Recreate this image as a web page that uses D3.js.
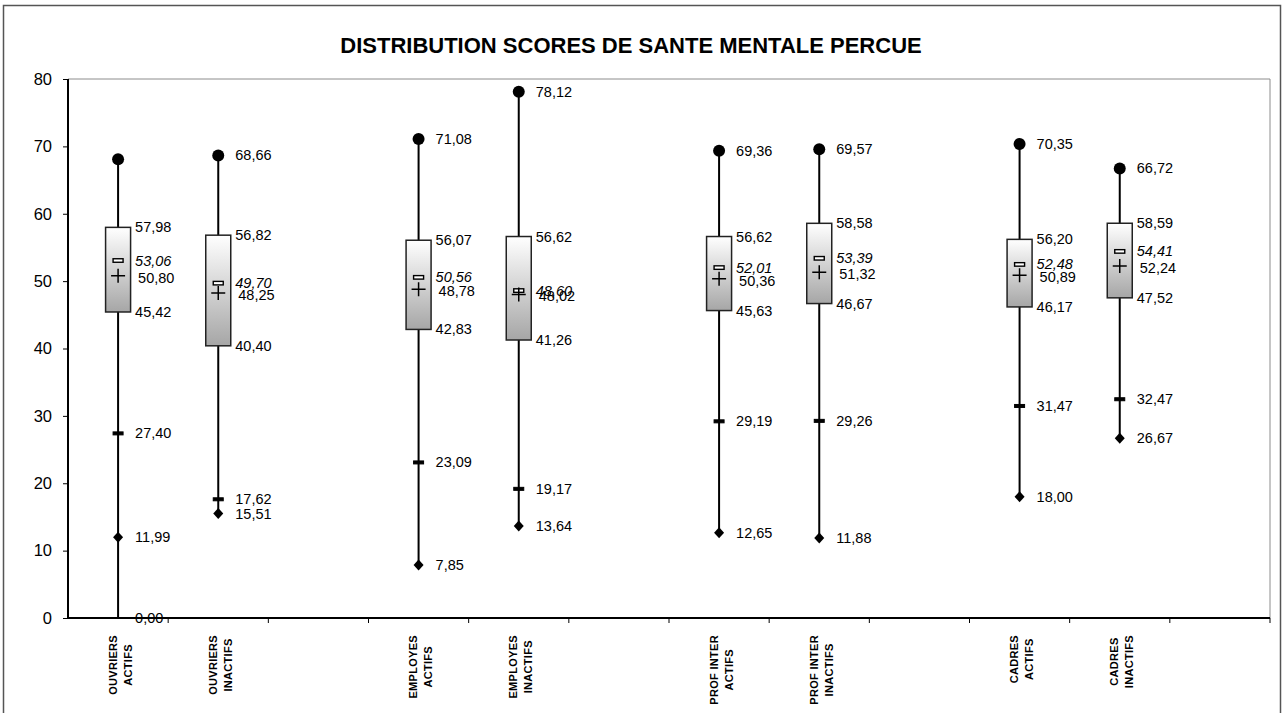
<!DOCTYPE html>
<html>
<head>
<meta charset="utf-8">
<title>Distribution scores de sante mentale percue</title>
<style>
	body { margin: 0; background: #fff; }
	svg { display: block; font-family: "Liberation Sans", Arial, sans-serif; }
</style>
</head>
<body>
	<svg id="chart" width="1287" height="713"></svg>
</body>
<script src="https://cdn.jsdelivr.net/npm/d3@7/dist/d3.min.js"></script>
<script>
	// 12 slots on the x axis, empty ones are the gaps between groups
	const slots = ["OUVRIERS|ACTIFS", "OUVRIERS|INACTIFS", "",
		"EMPLOYES|ACTIFS", "EMPLOYES|INACTIFS", "",
		"PROF INTER|ACTIFS", "PROF INTER|INACTIFS", "",
		"CADRES|ACTIFS", "CADRES|INACTIFS", ""]

	const maxVal    = [68.10, 68.66, 71.08, 78.12, 69.36, 69.57, 70.35, 66.72]
	const q3Val     = [57.98, 56.82, 56.07, 56.62, 56.62, 58.58, 56.20, 58.59]
	const medianVal = [53.06, 49.70, 50.56, 48.60, 52.01, 53.39, 52.48, 54.41]
	const meanVal   = [50.80, 48.25, 48.78, 48.02, 50.36, 51.32, 50.89, 52.24]
	const q1Val     = [45.42, 40.40, 42.83, 41.26, 45.63, 46.67, 46.17, 47.52]
	const lowVal    = [27.40, 17.62, 23.09, 19.17, 29.19, 29.26, 31.47, 32.47]
	const minVal    = [11.99, 15.51, 7.85, 13.64, 12.65, 11.88, 18.00, 26.67]
	const whiskerEnd = [0.00, 15.51, 7.85, 13.64, 12.65, 11.88, 18.00, 26.67]
	const maxLabelled = [false, true, true, true, true, true, true, true]

	const yTicks = [0, 10, 20, 30, 40, 50, 60, 70, 80]
	const title = "DISTRIBUTION SCORES DE SANTE MENTALE PERCUE"

	let svg = d3.select("#chart")
	let fmt = v => d3.format(".2f")(v).replace(".", ",")

	let x = d3.scaleBand()
		.domain(d3.range(slots.length))
		.range([68, 1270])
		.padding(0)

	let y = d3.scaleLinear()
		.domain([0, 80])
		.range([618, 79])

	// boxes are placed on the non-empty slots
	let slotIdx = slots.map((s, i) => s ? i : -1).filter(i => i >= 0)
	let boxes = slotIdx.map((s, i) => ({
		slot: s, max: maxVal[i], q3: q3Val[i], med: medianVal[i], mean: meanVal[i],
		q1: q1Val[i], low: lowVal[i], min: minVal[i], end: whiskerEnd[i], maxLab: maxLabelled[i]
	}))
	let cx = d => x(d.slot) + x.bandwidth() / 2

	// gradient for the boxes
	let grad = svg.append("defs").append("linearGradient")
		.attr("id", "boxFill")
		.attr("x1", 0).attr("y1", 0).attr("x2", 0).attr("y2", 1)
	grad.append("stop").attr("offset", "0%").attr("stop-color", "#ffffff")
	grad.append("stop").attr("offset", "100%").attr("stop-color", "#a6a6a6")

	// outer frame
	svg.append("rect")
		.attr("x", 3.5).attr("y", 5.5)
		.attr("width", 1277).attr("height", 730)
		.attr("fill", "none").attr("stroke", "#555").attr("stroke-width", 1.5)

	svg.append("text")
		.attr("x", 631).attr("y", 53)
		.attr("text-anchor", "middle")
		.attr("font-size", 22).attr("font-weight", "bold")
		.text(title)

	// plot area top & right border
	svg.append("path")
		.attr("d", `M${x.range()[0]},${y(80)}H${x.range()[1]}V${y(0)}`)
		.attr("fill", "none").attr("stroke", "#8c8c8c").attr("stroke-width", 1)

	// y axis
	let yAxis = svg.append("g")
		.attr("transform", `translate(${x.range()[0]},0)`)
		.call(d3.axisLeft(y).tickValues(yTicks).tickSize(5).tickPadding(11))
	yAxis.select(".domain").remove()
	yAxis.selectAll("text").attr("font-size", 16.5).attr("fill", "#000")
		.attr("font-family", "Liberation Sans, Arial, sans-serif")
	yAxis.selectAll("line").attr("stroke", "#000")

	// x axis ticks at slot boundaries
	let bounds = d3.range(slots.length + 1).map(i => x.range()[0] + i * x.bandwidth())
	svg.selectAll(".xtick").data(bounds.slice(1)).enter().append("line")
		.attr("x1", d => d).attr("x2", d => d)
		.attr("y1", y(0)).attr("y2", y(0) + 5)
		.attr("stroke", "#000").attr("stroke-width", 1)

	svg.append("line")
		.attr("x1", x.range()[0]).attr("x2", x.range()[0])
		.attr("y1", y(80)).attr("y2", y(0) + 1)
		.attr("stroke", "#000").attr("stroke-width", 2)
	svg.append("line")
		.attr("x1", x.range()[0] - 1).attr("x2", x.range()[1])
		.attr("y1", y(0)).attr("y2", y(0))
		.attr("stroke", "#000").attr("stroke-width", 2)

	// category labels (rotated, two lines)
	let catG = svg.selectAll(".cat").data(slots.map((s, i) => ({ s, i })).filter(d => d.s))
		.enter().append("g")
	catG.each(function (d) {
		let g = d3.select(this)
		let lines = d.s.split("|")
		let t = g.selectAll("text").data(lines).enter().append("text")
			.attr("font-size", 11).attr("font-weight", "bold")
			.attr("letter-spacing", 0.3)
			.attr("text-anchor", "middle")
			.attr("dominant-baseline", "central")
			.attr("y", (l, j) => (j - (lines.length - 1) / 2) * 15)
			.text(l => l)
		let maxLen = d3.max(t.nodes(), n => n.getComputedTextLength())
		g.attr("transform", `translate(${x(d.i) + x.bandwidth() / 2 + 2},${635 + maxLen / 2}) rotate(-90)`)
	})

	let bx = svg.selectAll(".box").data(boxes).enter().append("g")

	// whisker
	bx.append("line")
		.attr("x1", cx).attr("x2", cx)
		.attr("y1", d => y(d.end)).attr("y2", d => y(d.max))
		.attr("stroke", "#000").attr("stroke-width", 2)

	// box
	bx.append("rect")
		.attr("x", d => cx(d) - 12.5)
		.attr("width", 25)
		.attr("y", d => y(d.q3))
		.attr("height", d => y(d.q1) - y(d.q3))
		.attr("fill", "url(#boxFill)")
		.attr("stroke", "#222").attr("stroke-width", 1.5)

	// max dot
	bx.append("circle")
		.attr("cx", cx).attr("cy", d => y(d.max))
		.attr("r", 6).attr("fill", "#000")

	// min diamond
	bx.append("path")
		.attr("d", d => `M${cx(d)},${y(d.min) - 5.5}l5,5.5l-5,5.5l-5,-5.5z`)
		.attr("fill", "#000")

	// median and low percentile small bars
	bx.append("rect")
		.attr("x", d => cx(d) - 5).attr("width", 10)
		.attr("y", d => y(d.med) - 1.75).attr("height", 3.5)
		.attr("fill", "#fff").attr("stroke", "#000").attr("stroke-width", 1.4)
	bx.append("rect")
		.attr("x", d => cx(d) - 5).attr("width", 10)
		.attr("y", d => y(d.low) - 1.5).attr("height", 3)
		.attr("fill", "#000").attr("stroke", "#000").attr("stroke-width", 1)

	// mean cross
	bx.append("path")
		.attr("d", d => `M${cx(d) - 7},${y(d.mean)}h14M${cx(d)},${y(d.mean) - 7}v14`)
		.attr("stroke", "#000").attr("stroke-width", 1.5)

	// value labels
	function label(sel, key, dx, dy, italic, show) {
		sel.filter(show || (() => true)).append("text")
			.attr("x", d => cx(d) + dx)
			.attr("y", d => y(d[key]) + dy)
			.attr("dominant-baseline", "central")
			.attr("font-size", 14.5)
			.attr("font-style", italic ? "italic" : "normal")
			.text(d => fmt(d[key]))
	}
	label(bx, "max", 17, 0, false, d => d.maxLab)
	label(bx, "q3", 17, 0, false)
	label(bx, "med", 17, 0, true)
	label(bx, "mean", 20, 2, false)
	label(bx, "q1", 17, 0, false)
	label(bx, "low", 17, 0, false)
	label(bx, "min", 17, 0, false)
	label(bx, "end", 17, 0, false, d => d.end < d.min)
</script>
</html>
